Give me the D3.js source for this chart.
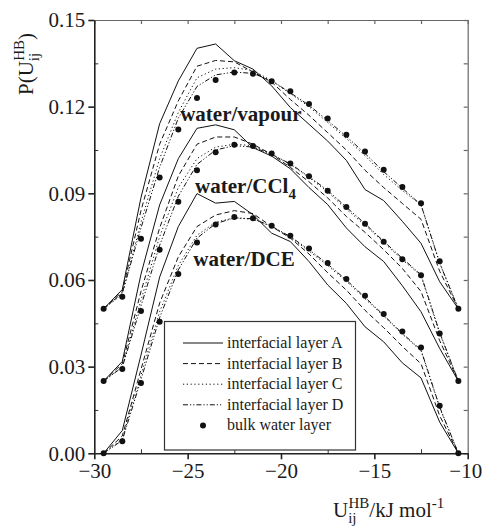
<!DOCTYPE html>
<html>
<head>
<meta charset="utf-8">
<script src="https://cdn.jsdelivr.net/npm/d3@7"></script>
<style>
  body { margin: 0; background: #fff; }
  text { font-family: 'Liberation Serif', 'Times New Roman', serif; fill: #1a1a1a; }
</style>
</head>
<body>
<script>
// Energy bins (kJ/mol)
const energy = [-29.5, -28.5, -27.5, -26.5, -25.5, -24.5, -23.5, -22.5, -21.5, -20.5,
    -19.5, -18.5, -17.5, -16.5, -15.5, -14.5, -13.5, -12.5, -11.5, -10.5]

// Systems and their vertical shift on the plot
const systems = ['water/vapour', 'water/CCl4', 'water/DCE']
const shifts = [0.05, 0.025, 0]

// water/vapour layers
const vapourA = [0, 0.0067, 0.0385, 0.0641, 0.0789, 0.0902, 0.0917, 0.0859, 0.0830, 0.0772, 0.0697, 0.0639, 0.0581, 0.0514, 0.0413, 0.0375, 0.0303, 0.0227, 0.0094, 0]
const vapourB = [0, 0.0060, 0.0340, 0.0570, 0.0720, 0.0840, 0.0860, 0.0855, 0.0820, 0.0785, 0.0725, 0.0670, 0.0610, 0.0550, 0.0480, 0.0420, 0.0365, 0.0310, 0.0130, 0]
const vapourC = [0, 0.0050, 0.0300, 0.0520, 0.0680, 0.0800, 0.0830, 0.0835, 0.0825, 0.0790, 0.0745, 0.0700, 0.0645, 0.0590, 0.0530, 0.0465, 0.0410, 0.0360, 0.0160, 0]
const vapourD = [0, 0.0055, 0.0280, 0.0490, 0.0660, 0.0770, 0.0810, 0.0820, 0.0815, 0.0790, 0.0748, 0.0705, 0.0652, 0.0597, 0.0538, 0.0475, 0.0418, 0.0360, 0.0158, 0]

// water/CCl4 layers
const ccl4A = [0, 0.0068, 0.0370, 0.0610, 0.0770, 0.0875, 0.0887, 0.0870, 0.0808, 0.0779, 0.0735, 0.0670, 0.0611, 0.0530, 0.0465, 0.0414, 0.0330, 0.0240, 0.0113, 0]
const ccl4B = [0, 0.0060, 0.0310, 0.0530, 0.0710, 0.0820, 0.0845, 0.0845, 0.0820, 0.0785, 0.0740, 0.0690, 0.0634, 0.0570, 0.0515, 0.0455, 0.0390, 0.0310, 0.0140, 0]
const ccl4C = [0, 0.0050, 0.0280, 0.0500, 0.0670, 0.0770, 0.0810, 0.0820, 0.0815, 0.0785, 0.0750, 0.0705, 0.0655, 0.0595, 0.0540, 0.0480, 0.0420, 0.0365, 0.0165, 0]
const ccl4D = [0, 0.0048, 0.0260, 0.0470, 0.0640, 0.0750, 0.0800, 0.0815, 0.0810, 0.0785, 0.0752, 0.0708, 0.0660, 0.0602, 0.0545, 0.0484, 0.0425, 0.0368, 0.0168, 0]

// water/DCE layers
const dceA = [0, 0.0079, 0.0340, 0.0610, 0.0785, 0.0899, 0.0866, 0.0872, 0.0826, 0.0762, 0.0733, 0.0664, 0.0583, 0.0519, 0.0438, 0.0386, 0.0313, 0.0261, 0.0108, 0]
const dceB = [0, 0.0060, 0.0290, 0.0520, 0.0680, 0.0785, 0.0825, 0.0840, 0.0830, 0.0785, 0.0745, 0.0690, 0.0625, 0.0565, 0.0495, 0.0435, 0.0370, 0.0310, 0.0130, 0]
const dceC = [0, 0.0050, 0.0270, 0.0490, 0.0650, 0.0755, 0.0800, 0.0815, 0.0810, 0.0785, 0.0748, 0.0700, 0.0650, 0.0595, 0.0535, 0.0475, 0.0412, 0.0355, 0.0158, 0]
const dceD = [0, 0.0045, 0.0255, 0.0470, 0.0635, 0.0745, 0.0795, 0.0815, 0.0812, 0.0786, 0.0750, 0.0705, 0.0655, 0.0600, 0.0540, 0.0478, 0.0415, 0.0358, 0.0160, 0]

// bulk water (same reference curve under every system)
const bulk = [0, 0.0042, 0.0243, 0.0455, 0.0621, 0.0730, 0.0792, 0.0818, 0.0814, 0.0788, 0.0753, 0.0709, 0.0659, 0.0603, 0.0545, 0.0482, 0.0422, 0.0366, 0.0165, 0]

// Legend labels and tick values
const layerNames = ['interfacial layer A', 'interfacial layer B', 'interfacial layer C', 'interfacial layer D', 'bulk water layer']
const yMajor = [0, 0.03, 0.06, 0.09, 0.12, 0.15]
const yMinor = [0.015, 0.045, 0.075, 0.105, 0.135]
const xMajor = [-30, -25, -20, -15, -10]
const xMinor = [-27.5, -22.5, -17.5, -12.5]

const layers = [
    [vapourA, vapourB, vapourC, vapourD],
    [ccl4A, ccl4B, ccl4C, ccl4D],
    [dceA, dceB, dceC, dceD]
]
const dashes = [null, '5,3', '1.2,2.6', '5,2,1.2,2,1.2,2']

// SVG
const svg = d3.select('body').append('svg')
    .attr('width', 482)
    .attr('height', 527)

// Scales
const x = d3.scaleLinear().domain([-30, -10]).range([94.3, 467.7])
const y = d3.scaleLinear().domain([0, 0.15]).range([453.3, 20])

// Frame: top and right (light), ticks inward
svg.append('g')
    .attr('transform', `translate(0, ${y(0.15)})`)
    .call(d3.axisTop(x).tickValues(xMajor.concat(xMinor)).tickSize(-4).tickSizeOuter(0).tickFormat(''))
    .call(g => g.selectAll('path, line').attr('stroke', '#666').attr('stroke-width', 1.2))

svg.append('g')
    .attr('transform', `translate(${x(-10)}, 0)`)
    .call(d3.axisRight(y).tickValues(yMajor.concat(yMinor)).tickSize(-4).tickSizeOuter(0).tickFormat(''))
    .call(g => g.selectAll('path, line').attr('stroke', '#666').attr('stroke-width', 1.2))

// Left axis
svg.append('g')
    .attr('transform', `translate(${x(-30)}, 0)`)
    .call(d3.axisLeft(y).tickValues(yMinor).tickSize(-4).tickSizeOuter(0).tickFormat(''))
    .call(g => g.select('.domain').remove())
    .call(g => g.selectAll('line').attr('stroke', '#333'))

const yAxis = svg.append('g')
    .attr('transform', `translate(${x(-30)}, 0)`)
    .call(d3.axisLeft(y).tickValues(yMajor).tickSize(6).tickSizeOuter(0).tickPadding(3).tickFormat(d3.format('.2f')))
yAxis.selectAll('path, line').attr('stroke', '#222').attr('stroke-width', 1.6)
yAxis.selectAll('text').style('font-size', '21px').attr('fill', '#1a1a1a')

// Bottom axis
svg.append('g')
    .attr('transform', `translate(0, ${y(0)})`)
    .call(d3.axisBottom(x).tickValues(xMinor).tickSize(-4).tickSizeOuter(0).tickFormat(''))
    .call(g => g.select('.domain').remove())
    .call(g => g.selectAll('line').attr('stroke', '#333'))

const xAxis = svg.append('g')
    .attr('transform', `translate(0, ${y(0)})`)
    .call(d3.axisBottom(x).tickValues(xMajor).tickSize(6).tickSizeOuter(0).tickPadding(4).tickFormat(d3.format('d')))
xAxis.selectAll('path, line').attr('stroke', '#222').attr('stroke-width', 1.6)
xAxis.selectAll('text').style('font-size', '21px').attr('fill', '#1a1a1a')
// keep the last label inside the window
xAxis.selectAll('.tick').filter(d => d === -10).select('text')
    .attr('text-anchor', 'end')
    .attr('x', 14)

// Lines and dots
systems.forEach((s, si) => {
    const line = d3.line()
        .x((d, i) => x(energy[i]))
        .y(d => y(d + shifts[si]))

    layers[si].forEach((series, li) => {
        svg.append('path')
            .datum(series)
            .attr('fill', 'none')
            .attr('stroke', '#111')
            .attr('stroke-width', 1)
            .attr('stroke-dasharray', dashes[li])
            .attr('d', line)
    })

    svg.selectAll(`.dot${si}`)
        .data(bulk)
        .enter().append('circle')
        .attr('class', `dot${si}`)
        .attr('cx', (d, i) => x(energy[i]))
        .attr('cy', d => y(d + shifts[si]))
        .attr('r', 3)
        .attr('fill', '#111')
})

// System labels
const sysLabel = (t, sub, xv, yv) => {
    const txt = svg.append('text')
        .attr('x', x(xv))
        .attr('y', y(yv))
        .style('font-size', '21px')
        .style('font-weight', 'bold')
        .text(t)
    if (sub) txt.append('tspan').attr('dy', 6).style('font-size', '15px').text(sub)
}
sysLabel('water/vapour', null, -25.4, 0.1152)
sysLabel('water/CCl', '4', -24.6, 0.0902)
sysLabel('water/DCE', null, -24.7, 0.0648)

// Legend
const legend = svg.append('g')
legend.append('rect')
    .attr('x', 164.5).attr('y', 321.5)
    .attr('width', 191).attr('height', 128.5)
    .attr('fill', '#fff')
    .attr('stroke', '#333')
    .attr('stroke-width', 1.2)

layerNames.forEach((name, i) => {
    const ly = 343 + i * 20.6
    if (i < 4) {
        legend.append('line')
            .attr('x1', 183).attr('x2', 223)
            .attr('y1', ly).attr('y2', ly)
            .attr('stroke', '#111')
            .attr('stroke-dasharray', dashes[i])
    } else {
        legend.append('circle').attr('cx', 203).attr('cy', ly).attr('r', 3).attr('fill', '#111')
    }
    legend.append('text')
        .attr('x', 227).attr('y', ly + 5)
        .style('font-size', '16px')
        .text(name)
})

// Axis titles
const yTitle = svg.append('text')
    .attr('transform', 'translate(33, 64) rotate(-90)')
    .attr('text-anchor', 'middle')
    .style('font-size', '21px')
yTitle.append('tspan').text('P(U')
yTitle.append('tspan').attr('dy', 6).style('font-size', '15px').text('ij')
yTitle.append('tspan').attr('dx', -8).attr('dy', -15).style('font-size', '15px').text('HB')
yTitle.append('tspan').attr('dy', 9).text(')')

const xTitle = svg.append('text')
    .attr('x', 333)
    .attr('y', 517)
    .style('font-size', '21px')
xTitle.append('tspan').text('U')
xTitle.append('tspan').attr('dy', 6).style('font-size', '15px').text('ij')
xTitle.append('tspan').attr('dx', -8).attr('dy', -15).style('font-size', '15px').text('HB')
xTitle.append('tspan').attr('dy', 9).text('/kJ mol')
xTitle.append('tspan').attr('dy', -9).style('font-size', '15px').text('-1')
</script>
</body>
</html>
